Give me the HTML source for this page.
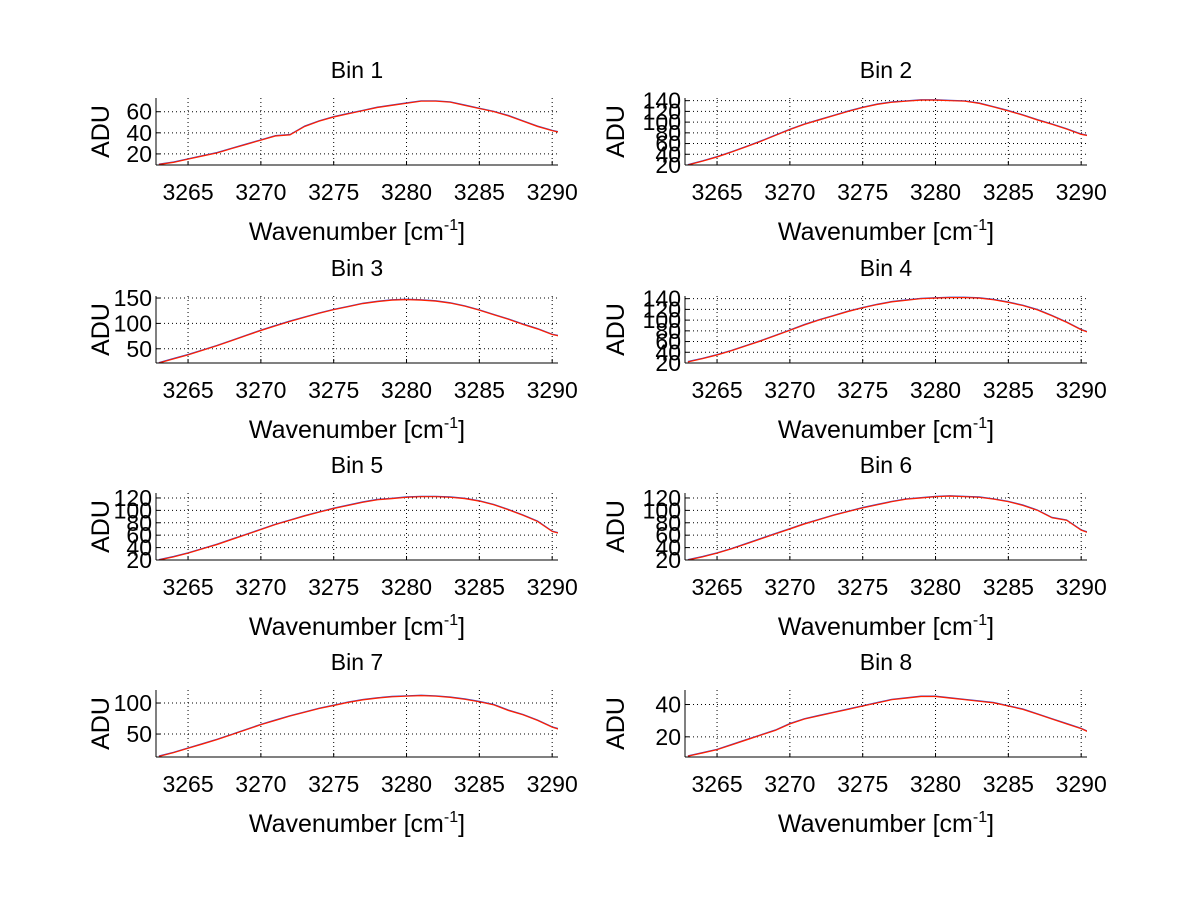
<!DOCTYPE html>
<html><head><meta charset="utf-8"><style>
body{margin:0;background:#fff}
svg{display:block;font-family:"Liberation Sans",Arial,sans-serif}
</style></head><body>
<svg id="fig" width="1200" height="901" viewBox="0 0 1200 901"></svg>
<script>
const wavenumbers=[3263,3264,3265,3266,3267,3268,3269,3270,3271,3272,3273,3274,3275,3276,3277,3278,3279,3280,3281,3282,3283,3284,3285,3286,3287,3288,3289,3290,3291];
const bin1=[10,12,15,18,21,25,29,33,37,38,46,51,55,58,61,64,66,68,70,70,69,66,63,60,56,51,46,42,39];
const bin2=[20,27,35,44,54,64,75,86,96,104,112,120,127,133,137,139,141,141,140,139,135,128,121,113,104,96,87,77,72];
const bin3=[22,30,38,47,56,66,76,86,95,104,112,120,127,133,139,143,146,147,146,144,140,134,126,117,108,98,89,78,72];
const bin4=[22,28,35,43,52,61,71,81,91,100,108,116,123,129,134,137,140,141,142,142,141,138,133,127,119,108,96,82,72];
const bin5=[20,25,31,38,45,53,61,69,77,84,91,97,103,108,113,117,119,121,122,122,121,119,115,109,101,92,82,66,60];
const bin6=[20,25,31,38,46,54,62,70,78,85,92,98,104,109,114,118,120,122,123,122,121,118,114,108,100,88,84,68,60];
const bin7=[14,20,27,34,41,49,57,65,72,79,85,91,96,101,105,108,110,111,112,111,109,106,102,97,88,81,72,61,54];
const bin8=[8,10,12,15,18,21,24,28,31,33,35,37,39,41,43,44,45,45,44,43,42,41,39,37,34,31,28,25,21];
const xTicks=[3265,3270,3275,3280,3285,3290];
const series=[bin1,bin2,bin3,bin4,bin5,bin6,bin7,bin8];
const yLims=[[9.5,73],[20,145],[22,154],[20,145],[20,128],[20,128],[13,121],[7.5,49]];
const yTicks=[[20,40,60],[20,40,60,80,100,120,140],[50,100,150],[20,40,60,80,100,120,140],[20,40,60,80,100,120],[20,40,60,80,100,120],[50,100],[20,40]];
const xLim=[3262.8,3290.4];

const NS="http://www.w3.org/2000/svg";
const svg=document.getElementById('fig');
function mk(tag,attrs,parent){const e=document.createElementNS(NS,tag);for(const k in attrs)e.setAttribute(k,attrs[k]);(parent||svg).appendChild(e);return e;}
const cols=[156,685], W=402, tops=[98,296,493,690], H=67;
for(let i=0;i<8;i++){
  const L=cols[i%2], T=tops[Math.floor(i/2)];
  const g=mk('g',{});
  
  
  const [y0,y1]=yLims[i];
  const sx=v=>L+(v-xLim[0])/(xLim[1]-xLim[0])*W;
  const sy=v=>T+H-(v-y0)/(y1-y0)*H;
  const cp=mk('clipPath',{id:'c'+i},g);mk('rect',{x:L,y:T,width:W,height:H},cp);
  xTicks.forEach(t=>{const gl=mk('line',{x1:sx(t),x2:sx(t),y1:T,y2:T+H,stroke:'#000','stroke-width':1,'stroke-dasharray':'1,3'},g);
    
    mk('line',{x1:sx(t),x2:sx(t),y1:T+H,y2:T+H-4,stroke:'#000'},g);
    const tl=mk('text',{x:sx(t),y:T+H+35,'text-anchor':'middle','font-size':23},g);tl.textContent=t;
    });
  yTicks[i].forEach(t=>{const gl=mk('line',{x1:L,x2:L+W,y1:sy(t),y2:sy(t),stroke:'#000','stroke-width':1,'stroke-dasharray':'1,3'},g);
    
    mk('line',{x1:L,x2:L+4,y1:sy(t),y2:sy(t),stroke:'#000'},g);
    const tl=mk('text',{x:L-4,y:sy(t)+8,'text-anchor':'end','font-size':23},g);tl.textContent=t;
    });
  const d=series[i].map((v,k)=>(k?'L':'M')+sx(wavenumbers[k]).toFixed(1)+','+sy(v).toFixed(1)).join(' ');
  const b=mk('path',{d:d,fill:'none',stroke:'#4040c0','stroke-width':1,'clip-path':'url(#c'+i+')',transform:'translate(0,-0.5)'},g);
  
  const r=mk('path',{d:d,fill:'none',stroke:'#ff2000','stroke-width':1.2,'clip-path':'url(#c'+i+')'},g);
  
  mk('line',{x1:L,x2:L,y1:T,y2:T+H,stroke:'#000'},g);
  mk('line',{x1:L,x2:L+W,y1:T+H,y2:T+H,stroke:'#000'},g);
  const ti=mk('text',{x:L+W/2,y:T-20,'text-anchor':'middle','font-size':23},g);ti.textContent='Bin '+(i+1);
  
  const xl=mk('text',{x:L+W/2,y:T+H+75,'text-anchor':'middle','font-size':25},g);
  xl.innerHTML='Wavenumber [cm<tspan dy="-10" font-size="16">-1</tspan><tspan dy="10">]</tspan>';
  
  const cx=L-(i%2?70:56), cy=T+H/2;
  const yl=mk('text',{x:cx,y:cy,'text-anchor':'middle','font-size':25,transform:'rotate(-90 '+cx+' '+cy+')',dy:9},g);yl.textContent='ADU';
  
}
</script>
</body></html>
